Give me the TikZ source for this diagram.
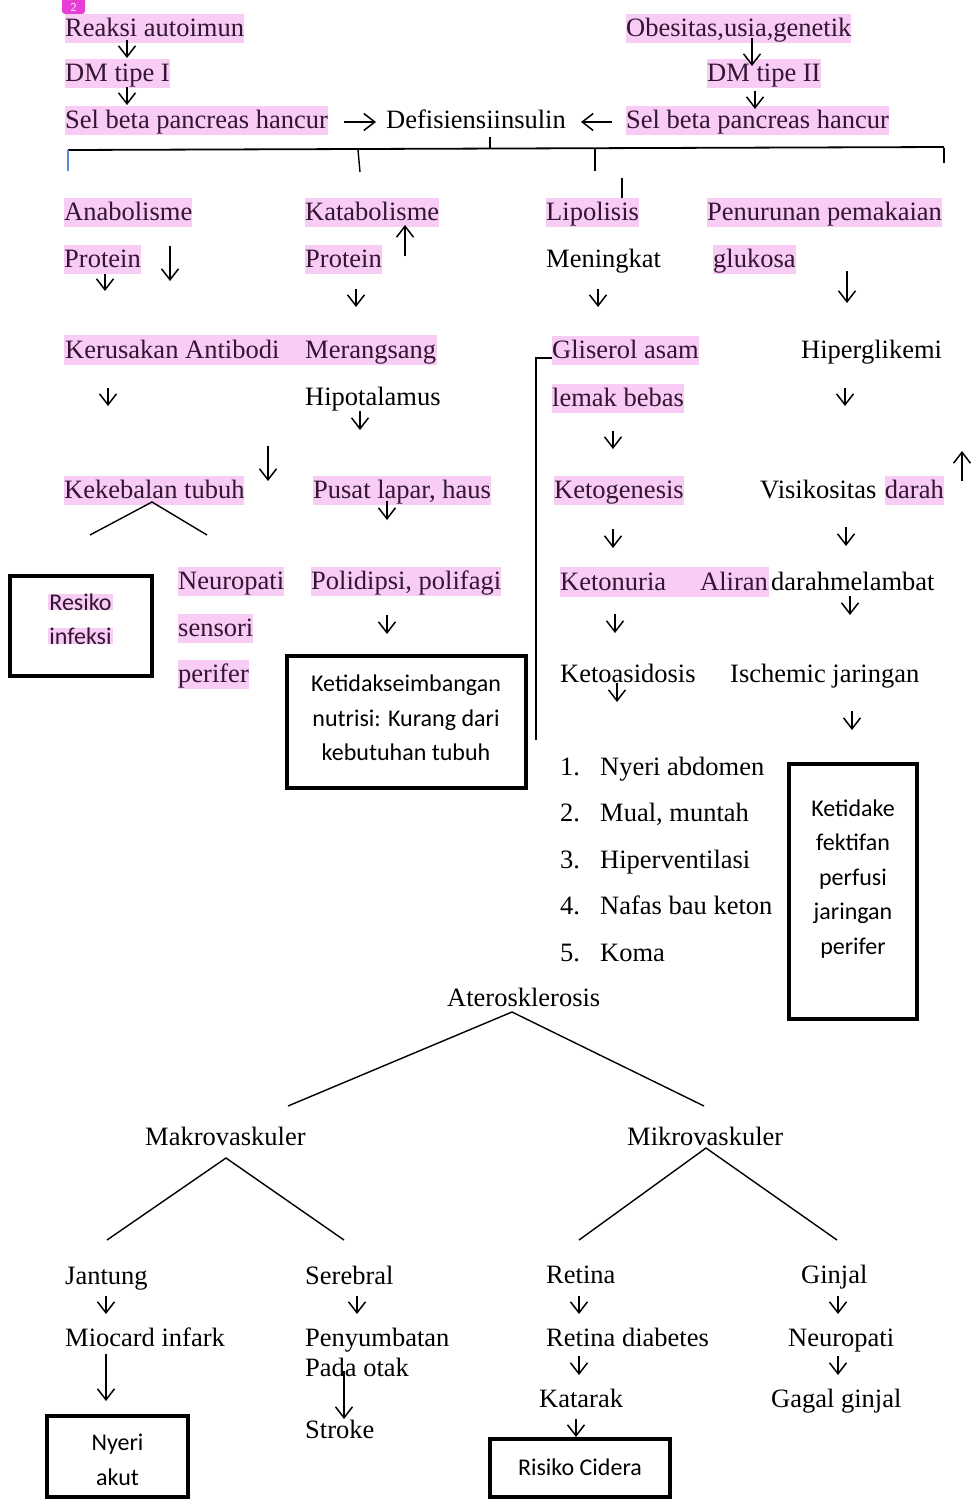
\documentclass[tikz,border=0pt]{standalone}
\usepackage{fontspec}
\setmainfont{Liberation Serif}
\newfontfamily\calfont{Carlito}
\usetikzlibrary{arrows.meta}
\definecolor{hl}{RGB}{249,204,245}
\definecolor{hltext}{RGB}{50,22,50}
\definecolor{badge}{RGB}{232,62,216}
\definecolor{tickblue}{RGB}{90,140,220}
\tikzset{
  txt/.style={anchor=base west, inner xsep=0pt, inner ysep=0pt, text height=22pt, text depth=7pt, font=\fontsize{26.5}{30}\selectfont},
  hil/.style={txt, fill=hl, text=hltext},
  hitx/.style={txt, text=hltext},
  arr/.style={line width=1.5pt, -{Straight Barb[length=11pt,width=17pt,line width=1.5pt]}},
  ln/.style={line width=1.4pt},
  boxline/.style={draw, line width=3.8pt},
  btxt/.style={font=\calfont\fontsize{24}{34.5}\selectfont, inner sep=0pt, align=center},
}
\newcommand{\darr}[3]{\draw[arr] (#1,-#2) -- (#1,-#3);}
\begin{document}
\begin{tikzpicture}[x=1pt,y=1pt]
\useasboundingbox (0,0) rectangle (973,-1499);
\fill[white] (0,0) rectangle (973,-1499);

% badge
\fill[badge, rounded corners=3pt] (62,3) rectangle (85,-14);
\node[text=white, inner sep=0pt, font=\sffamily\fontsize{12}{12}\selectfont, anchor=base] (badge) at (73.5,-11) {2};

% top left chain
\node[hil] (ra) at (65,-36) {Reaksi autoimun};
\node[hil] (dm1) at (65,-81) {DM tipe I};
\node[hil] (sbl) at (65,-128) {Sel beta pancreas hancur};
\node[txt] (def) at (386,-128) {Defisiensiinsulin};
% top right chain
\node[hil] (obs) at (626,-36) {Obesitas,usia,genetik};
\node[hil] (dm2) at (707,-81) {DM tipe II};
\node[hil] (sbr) at (626,-128) {Sel beta pancreas hancur};

\darr{127}{40}{58}
\darr{127}{87}{105}
\darr{752}{38}{66}
\darr{755}{91}{109}
\draw[arr] (344,-122) -- (376,-122);
\draw[arr] (612,-122) -- (581,-122);

% branching bar
\coordinate (barL) at (68,-150);
\coordinate (barR) at (944,-147);
\draw[line width=1.8pt] (barL) -- (barR);
\draw[ln] (490,-137) -- (490,-149);
\draw[line width=1.2pt, tickblue] (68,-150) -- (68,-171);
\draw[ln] (358,-150) -- (360,-172);
\draw[ln] (595,-149) -- (595,-171);
\draw[ln] (944,-148) -- (944,-163);
\draw[ln] (622,-178) -- (622,-198);

% row 2
\node[hil] (ana) at (64,-220) {Anabolisme};
\node[hil] (kat) at (305,-220) {Katabolisme};
\node[hil] (lip) at (546,-220) {Lipolisis};
\node[hil] (pen) at (707,-220) {Penurunan pemakaian};
\node[hil] (pr1) at (64,-267) {Protein};
\node[hil] (pr2) at (305,-267) {Protein};
\node[txt] (men) at (546,-267) {Meningkat};
\node[hil] (glu) at (713,-267) {glukosa};
\darr{170}{246}{281}
\darr{105}{274}{291}
\draw[arr] (405,-256) -- (405,-225);
\darr{356}{289}{307}
\darr{598}{289}{307}
\darr{847}{271}{303}

% row 3
\fill[hl] (64,-335) rectangle (437,-365);
\node[hitx] (ker) at (65,-358) {Kerusakan Antibodi};
\node[hitx] (mer) at (305,-358) {Merangsang};
\node[hil] (gli) at (552,-358) {Gliserol asam};
\node[txt] (hip) at (801,-358) {Hiperglikemi};
\node[txt] (hipo) at (305,-405) {Hipotalamus};
\node[hil] (lem) at (552,-406) {lemak bebas};
\draw[ln] (gli.west |- 0,-358) -- (536,-358) -- (536,-740);
\darr{108}{388}{406}
\darr{845}{388}{406}
\darr{360}{411}{430}
\darr{613}{431}{449}

% row 4
\node[hil] (kek) at (64,-498) {Kekebalan tubuh};
\node[hil] (pus) at (313,-498) {Pusat lapar, haus};
\node[hil] (ket) at (554,-498) {Ketogenesis};
\node[txt] (vis) at (760,-498) {Visikositas};
\node[hil, anchor=base east] (dar) at (944,-498) {darah};
\darr{268}{446}{481}
\darr{387}{501}{520}
\draw[arr] (962,-481) -- (962,-451);
\coordinate (kapex) at (152,-502);
\draw[ln] (90,-535) -- (kapex) -- (207,-535);
\darr{613}{529}{548}
\darr{846}{527}{546}

% row 5
\node[boxline, minimum width=142pt, minimum height=100pt, inner sep=0pt] (resbox) at (81,-626) {};
\node[btxt, fill=hl, text=hltext, text width=65pt] (res1) at (80.5,-602) {Resiko};
\node[btxt, fill=hl, text=hltext, text width=65pt] (res2) at (80.5,-636) {infeksi};
\node[hil] (neu1) at (178,-589) {Neuropati};
\node[hil] (neu2) at (178,-636) {sensori};
\node[hil] (neu3) at (178,-682) {perifer};
\node[hil] (pol) at (311,-589) {Polidipsi, polifagi};
\darr{387}{615}{634}
\node[boxline, minimum width=239pt, minimum height=132pt, inner sep=0pt] (kbox) at (406.5,-722) {};
\node[btxt] (ktxt) at (406,-718) {Ketidakseimbangan\\nutrisi: Kurang dari\\kebutuhan tubuh};
\fill[hl] (560,-567) rectangle (769,-597);
\node[hitx] (kton) at (560,-590) {Ketonuria};
\node[hitx] (alir) at (700,-590) {Aliran};
\node[txt] (dml) at (771,-590) {darahmelambat};
\darr{850}{596}{615}
\darr{615}{614}{633}

% row 6
\node[txt] (kasi) at (560,-682) {Ketoasidosis};
\node[txt] (isc) at (730,-682) {Ischemic jaringan};
\darr{617}{683}{702}
\darr{852}{711}{730}

% list
\node[txt] (l1n) at (560,-775) {1.};
\node[txt] (l1) at (600,-775) {Nyeri abdomen};
\node[txt] (l2n) at (560,-821) {2.};
\node[txt] (l2) at (600,-821) {Mual, muntah};
\node[txt] (l3n) at (560,-868) {3.};
\node[txt] (l3) at (600,-868) {Hiperventilasi};
\node[txt] (l4n) at (560,-914) {4.};
\node[txt] (l4) at (600,-914) {Nafas bau keton};
\node[txt] (l5n) at (560,-961) {5.};
\node[txt] (l5) at (600,-961) {Koma};
\node[boxline, minimum width=128pt, minimum height=255pt, inner sep=0pt] (pbox) at (853,-891.5) {};
\node[btxt] (ptxt) at (853,-879) {Ketidake\\fektifan\\perfusi\\jaringan\\perifer};

% complications tree
\node[txt] (ater) at (447,-1006) {Aterosklerosis};
\coordinate (aapex) at (512,-1012);
\draw[ln] (288,-1106) -- (aapex) -- (704,-1106);
\node[txt] (makro) at (145,-1145) {Makrovaskuler};
\node[txt] (mikro) at (627,-1145) {Mikrovaskuler};
\coordinate (maapex) at (226,-1158);
\coordinate (miapex) at (706,-1148);
\draw[ln] (107,-1240) -- (maapex) -- (344,-1240);
\draw[ln] (579,-1240) -- (miapex) -- (837,-1240);

\node[txt] (jan) at (65,-1284) {Jantung};
\node[txt] (mio) at (65,-1346) {Miocard infark};
\darr{106}{1296}{1314}
\darr{106}{1354}{1401}
\node[boxline, minimum width=141pt, minimum height=81pt, inner sep=0pt] (nbox) at (117.5,-1456.5) {};
\node[btxt] (ntxt) at (117.5,-1460) {Nyeri\\akut};

\node[txt] (ser) at (305,-1284) {Serebral};
\node[txt] (pny) at (305,-1346) {Penyumbatan};
\node[txt] (pad) at (305,-1376) {Pada otak};
\node[txt] (str) at (305,-1438) {Stroke};
\darr{357}{1296}{1314}
\darr{344}{1371}{1419}

\node[txt] (ret) at (546,-1283) {Retina};
\node[txt] (retd) at (546,-1346) {Retina diabetes};
\node[txt] (kata) at (539,-1407) {Katarak};
\darr{579}{1296}{1314}
\darr{579}{1356}{1375}
\darr{576}{1419}{1437}
\node[boxline, minimum width=180pt, minimum height=58pt, inner sep=0pt] (rbox) at (580,-1468) {};
\node[btxt] (rtxt) at (580,-1467) {Risiko Cidera};

\node[txt] (gin) at (801,-1283) {Ginjal};
\node[txt] (neu) at (788,-1346) {Neuropati};
\node[txt] (gag) at (771,-1407) {Gagal ginjal};
\darr{838}{1296}{1314}
\darr{838}{1356}{1375}
\end{tikzpicture}
\end{document}
